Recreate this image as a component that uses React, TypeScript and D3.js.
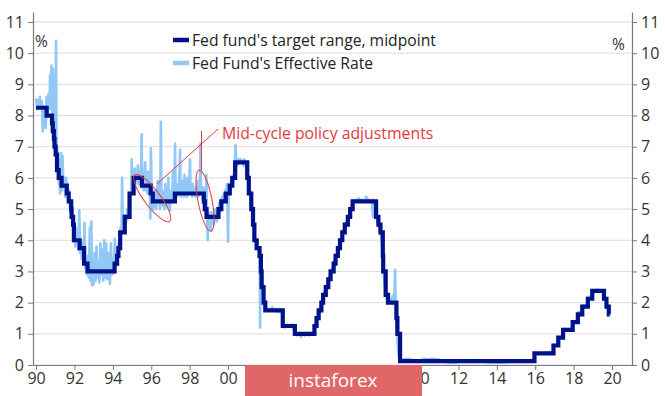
import * as d3 from "d3";
import { useRef, useEffect } from "react";

// Fed funds target range midpoint (step changes)
const targetDates = [
  1990.0, 1990.55, 1990.83, 1990.87, 1990.93, 1990.96, 1991.02, 1991.09, 1991.18, 1991.33,
  1991.6, 1991.7, 1991.83, 1991.85, 1991.93, 1991.97, 1992.27, 1992.5, 1992.68, 1994.09,
  1994.22, 1994.29, 1994.38, 1994.62, 1994.87, 1995.08, 1995.51, 1995.97, 1996.08, 1997.23,
  1998.74, 1998.79, 1998.88, 1999.5, 1999.65, 1999.88, 2000.09, 2000.22, 2000.37, 2001.0,
  2001.08, 2001.21, 2001.3, 2001.37, 2001.49, 2001.64, 2001.71, 2001.75, 2001.85, 2001.94,
  2002.85, 2003.48, 2004.5, 2004.61, 2004.72, 2004.86, 2004.95, 2005.09, 2005.22, 2005.34,
  2005.5, 2005.6, 2005.72, 2005.83, 2005.95, 2006.08, 2006.24, 2006.36, 2006.49, 2007.71,
  2007.83, 2007.94, 2008.06, 2008.08, 2008.21, 2008.33, 2008.77, 2008.82, 2008.96, 2015.96,
  2016.95, 2017.2, 2017.45, 2017.95, 2018.22, 2018.45, 2018.74, 2018.97, 2019.58, 2019.71,
  2019.83, 2019.87,
];
const targetRates = [
  8.25, 8.0, 7.75, 7.5, 7.25, 7.0, 6.75, 6.25, 6.0, 5.75,
  5.5, 5.25, 5.0, 4.75, 4.5, 4.0, 3.75, 3.25, 3.0, 3.25,
  3.5, 3.75, 4.25, 4.75, 5.5, 6.0, 5.75, 5.5, 5.25, 5.5,
  5.25, 5.0, 4.75, 5.0, 5.25, 5.5, 5.75, 6.0, 6.5, 6.0,
  5.5, 5.0, 4.5, 4.0, 3.75, 3.5, 3.0, 2.5, 2.0, 1.75,
  1.25, 1.0, 1.25, 1.5, 1.75, 2.0, 2.25, 2.5, 2.75, 3.0,
  3.25, 3.5, 3.75, 4.0, 4.25, 4.5, 4.75, 5.0, 5.25, 4.75,
  4.5, 4.25, 3.5, 3.0, 2.25, 2.0, 1.5, 1.0, 0.125, 0.375,
  0.625, 0.875, 1.125, 1.375, 1.625, 1.875, 2.125, 2.375, 2.125, 1.875,
  1.625, 1.625,
];

// Effective rate
const effectiveDates = [
  1990.0, 1990.05, 1990.1, 1990.15, 1990.2, 1990.25, 1990.3, 1990.35, 1990.4, 1990.45,
  1990.5, 1990.55, 1990.6, 1990.65, 1990.7, 1990.73, 1990.76, 1990.8, 1990.84, 1990.88,
  1990.92, 1990.96, 1991.0, 1991.04, 1991.07, 1991.1, 1991.13, 1991.16, 1991.19, 1991.22,
  1991.25, 1991.3, 1991.34, 1991.38, 1991.42, 1991.47, 1991.52, 1991.57, 1991.62, 1991.67,
  1991.72, 1991.77, 1991.82, 1991.87, 1991.92, 1991.96,
  1992.0, 1992.04, 1992.08, 1992.12, 1992.16, 1992.2, 1992.25, 1992.29, 1992.33, 1992.38,
  1992.42, 1992.47, 1992.52, 1992.56, 1992.6, 1992.65, 1992.7, 1992.75, 1992.8, 1992.84,
  1992.88, 1992.92, 1992.96, 1993.0, 1993.05, 1993.1, 1993.15, 1993.2, 1993.25, 1993.3,
  1993.35, 1993.4, 1993.45, 1993.5, 1993.55, 1993.6, 1993.65, 1993.7, 1993.75, 1993.8,
  1993.85, 1993.9, 1993.95, 1994.0, 1994.05, 1994.1, 1994.15, 1994.2, 1994.25, 1994.3,
  1994.35, 1994.4, 1994.45, 1994.48, 1994.52, 1994.56, 1994.6, 1994.65, 1994.7, 1994.75,
  1994.8, 1994.85, 1994.9, 1994.95, 1994.98, 1995.02, 1995.06, 1995.1, 1995.14, 1995.18,
  1995.22, 1995.26, 1995.3, 1995.34, 1995.38, 1995.42, 1995.46, 1995.5, 1995.53, 1995.57,
  1995.61, 1995.65, 1995.68, 1995.72, 1995.76, 1995.8, 1995.84, 1995.88, 1995.92, 1995.95,
  1995.98, 1996.02, 1996.06, 1996.1, 1996.14, 1996.18, 1996.22, 1996.26, 1996.3, 1996.34,
  1996.38, 1996.42, 1996.46, 1996.5, 1996.53, 1996.57, 1996.61, 1996.65, 1996.69, 1996.73,
  1996.77, 1996.81, 1996.85, 1996.89, 1996.93, 1996.97, 1997.01, 1997.05, 1997.09, 1997.13,
  1997.17, 1997.21, 1997.24, 1997.27, 1997.31, 1997.35, 1997.39, 1997.43, 1997.47, 1997.5,
  1997.53, 1997.57, 1997.61, 1997.65, 1997.69, 1997.73, 1997.77, 1997.81, 1997.85, 1997.89,
  1997.93, 1997.97, 1998.02, 1998.05, 1998.09, 1998.13, 1998.17, 1998.21, 1998.25, 1998.29,
  1998.33, 1998.37, 1998.41, 1998.45, 1998.49, 1998.53, 1998.56, 1998.59, 1998.63, 1998.67,
  1998.71, 1998.75, 1998.79, 1998.83, 1998.87, 1998.9, 1998.94, 1998.98, 1999.02, 1999.06,
  1999.1, 1999.14, 1999.18, 1999.22, 1999.26, 1999.3, 1999.34, 1999.38, 1999.42, 1999.46,
  1999.5, 1999.54, 1999.58, 1999.62, 1999.66, 1999.7, 1999.74, 1999.78, 1999.82, 1999.86,
  1999.9, 1999.94, 1999.97, 2000.0, 2000.03, 2000.07, 2000.11, 2000.15, 2000.19, 2000.23,
  2000.27, 2000.31, 2000.35, 2000.39, 2000.43, 2000.47, 2000.51, 2000.55, 2000.6, 2000.65,
  2000.7, 2000.75, 2000.8, 2000.85, 2000.9, 2000.95, 2001.0, 2001.05, 2001.1, 2001.15,
  2001.22, 2001.28, 2001.32, 2001.38, 2001.45, 2001.5, 2001.6, 2001.65, 2001.67, 2001.69,
  2001.73, 2001.78, 2001.85, 2001.9, 2001.95, 2002.05, 2002.1, 2002.2, 2002.3, 2002.4,
  2002.5, 2002.6, 2002.7, 2002.8, 2002.86, 2002.95, 2003.1, 2003.2, 2003.3, 2003.4,
  2003.48, 2003.6, 2003.7, 2003.8, 2003.9, 2004.0, 2004.1, 2004.2, 2004.3, 2004.4,
  2004.5, 2004.55, 2004.62, 2004.72, 2004.86, 2004.95, 2005.09, 2005.22, 2005.34, 2005.5,
  2005.6, 2005.72, 2005.83, 2005.95, 2006.08, 2006.24, 2006.36, 2006.49, 2006.6, 2006.7,
  2006.8, 2006.9, 2007.0, 2007.1, 2007.2, 2007.3, 2007.4, 2007.5, 2007.55, 2007.58,
  2007.62, 2007.72, 2007.83, 2007.94, 2008.0, 2008.06, 2008.09, 2008.21, 2008.33, 2008.45,
  2008.55, 2008.62, 2008.67, 2008.7, 2008.73, 2008.77, 2008.82, 2008.87, 2008.93, 2009.0,
  2009.2, 2009.4, 2009.6, 2009.8, 2010.0, 2010.2, 2010.4, 2010.6, 2010.8, 2011.0,
  2011.2, 2011.4, 2011.6, 2011.8, 2012.0, 2012.2, 2012.4, 2012.6, 2012.8, 2013.0,
  2013.2, 2013.4, 2013.6, 2013.8, 2014.0, 2014.5, 2015.0, 2015.5, 2015.95, 2015.98,
  2016.3, 2016.6, 2016.95, 2016.98, 2017.2, 2017.22, 2017.45, 2017.47, 2017.95, 2017.97,
  2018.22, 2018.24, 2018.45, 2018.47, 2018.74, 2018.76, 2018.97, 2018.99, 2019.3, 2019.45,
  2019.58, 2019.6, 2019.71, 2019.73, 2019.83, 2019.86,
];
const effectiveRates = [
  8.55, 8.2, 8.5, 8.3, 8.6, 8.25, 8.45, 7.5, 8.3, 8.0,
  7.6, 8.6, 8.1, 8.7, 8.2, 9.3, 8.3, 9.6, 8.0, 9.5,
  7.5, 9.0, 7.3, 10.4, 6.9, 7.0, 6.4, 6.6, 5.8, 6.3,
  5.5, 6.8, 5.6, 6.7, 5.7, 6.0, 5.4, 6.0, 5.5, 5.4,
  5.6, 4.9, 5.3, 4.8, 4.6, 4.5,
  4.1, 3.8, 4.4, 3.9, 4.3, 3.7, 4.97, 3.6, 4.0, 3.4,
  3.9, 3.3, 4.55, 3.1, 3.4, 2.9, 3.5, 2.8, 4.4, 2.7,
  4.6, 2.55, 3.3, 2.6, 3.6, 2.7, 3.8, 2.8, 3.3, 2.65,
  3.9, 2.9, 3.7, 2.7, 4.0, 2.8, 3.9, 2.75, 3.6, 2.9,
  2.6, 3.9, 2.9, 3.4, 2.95, 4.05, 3.2, 3.6, 3.4, 3.9,
  3.7, 4.4, 4.2, 6.0, 4.3, 4.5, 4.3, 4.8, 4.6, 5.0,
  4.7, 5.2, 5.4, 5.6, 6.6, 5.5, 6.0, 5.9, 6.3, 5.8,
  6.2, 5.9, 6.4, 5.8, 6.2, 5.9, 6.1, 7.4, 5.7, 5.9,
  5.6, 6.0, 6.5, 5.6, 5.9, 5.5, 6.2, 5.6, 5.9, 4.7,
  6.95, 5.4, 5.6, 5.0, 5.5, 5.1, 5.6, 5.0, 5.4, 5.9,
  5.2, 5.5, 5.0, 7.8, 5.2, 5.6, 5.1, 5.5, 5.0, 5.8,
  5.2, 5.5, 5.1, 6.0, 5.0, 4.95, 5.4, 5.6, 5.3, 6.2,
  5.4, 5.5, 7.1, 5.5, 5.8, 5.4, 5.7, 5.5, 6.3, 6.9,
  5.4, 5.8, 5.5, 5.9, 5.4, 6.1, 5.5, 5.7, 5.4, 6.0,
  5.5, 5.8, 6.6, 5.5, 5.7, 5.4, 5.8, 5.5, 5.6, 5.4,
  5.7, 5.5, 5.9, 5.4, 5.6, 5.5, 7.1, 5.5, 5.6, 5.3,
  5.7, 5.1, 5.3, 4.9, 6.1, 4.7, 4.0, 4.9, 4.6, 4.8,
  4.3, 4.9, 4.6, 4.8, 4.5, 5.0, 4.7, 4.9, 4.6, 5.0,
  4.9, 5.2, 4.9, 5.3, 5.1, 5.4, 5.2, 5.5, 5.3, 5.6,
  5.4, 5.8, 5.3, 3.95, 5.5, 5.7, 5.6, 5.9, 5.8, 6.0,
  5.9, 6.2, 6.4, 7.05, 6.5, 6.6, 6.4, 6.6, 6.5, 6.6,
  6.5, 6.55, 6.4, 6.6, 6.5, 6.2, 6.0, 5.9, 5.5, 5.6,
  5.0, 4.9, 4.5, 4.0, 4.0, 3.8, 3.7, 3.5, 1.2, 3.0,
  2.6, 2.5, 2.1, 2.0, 1.8, 1.75, 1.8, 1.75, 1.85, 1.75,
  1.8, 1.7, 1.8, 1.7, 1.3, 1.2, 1.3, 1.25, 1.3, 1.2,
  1.05, 0.95, 1.0, 0.9, 1.0, 0.95, 1.0, 0.95, 1.0, 1.0,
  1.05, 1.25, 1.45, 1.7, 1.95, 2.2, 2.45, 2.7, 2.95, 3.2,
  3.45, 3.7, 3.95, 4.2, 4.45, 4.7, 4.95, 5.2, 5.3, 5.25,
  5.35, 5.25, 5.3, 5.25, 5.4, 5.25, 5.3, 5.25, 4.75, 5.3,
  5.0, 4.8, 4.5, 4.2, 4.0, 3.5, 3.0, 2.3, 2.0, 2.0,
  2.2, 2.1, 2.4, 3.05, 2.0, 1.4, 0.8, 0.4, 0.2, 0.15,
  0.18, 0.2, 0.15, 0.12, 0.13, 0.2, 0.18, 0.2, 0.19, 0.17,
  0.12, 0.09, 0.08, 0.07, 0.1, 0.14, 0.16, 0.14, 0.16, 0.14,
  0.15, 0.1, 0.08, 0.09, 0.07, 0.09, 0.12, 0.13, 0.13, 0.36,
  0.37, 0.4, 0.41, 0.65, 0.66, 0.9, 0.91, 1.15, 1.16, 1.41,
  1.42, 1.7, 1.7, 1.91, 1.92, 2.18, 2.2, 2.4, 2.41, 2.38,
  2.4, 2.13, 2.04, 1.9, 1.83, 1.55,
];

const yTicks = [0, 1, 2, 3, 4, 5, 6, 7, 8, 9, 10, 11];
const xTicks = [1990, 1992, 1994, 1996, 1998, 2000, 2002, 2004, 2006, 2008, 2010, 2012, 2014, 2016, 2018, 2020];
// years whose labels sit under the watermark in the source image
const hiddenXLabels = [2002, 2004, 2006, 2008];
const legendLabels = ["Fed fund's target range, midpoint", "Fed Fund's Effective Rate"];
const annotationText = "Mid-cycle policy adjustments";

export default function App() {
  const width = 665;
  const height = 396;
  const marginLeft = 33;
  const marginRight = 33;
  const marginTop = 12;
  const marginBottom = 31;

  const ref = useRef(null);

  useEffect((): void => {
    if (!ref.current) return;
    const svg = d3.select(ref.current);
    svg.selectAll("*").remove();

    const font = "'Open Sans', 'Noto Sans', sans-serif";
    const navy = "#00128a";
    const lightBlue = "#92c8f6";
    const red = "#e23a44";

    const x = d3
      .scaleLinear()
      .domain([1989.84, 2021.04])
      .range([marginLeft, width - marginRight]);

    const y = d3
      .scaleLinear()
      .domain([0, 11.32])
      .range([height - marginBottom, marginTop]);

    // gridlines
    svg
      .append("g")
      .selectAll("line")
      .data(yTicks)
      .enter()
      .append("line")
      .attr("x1", marginLeft)
      .attr("x2", width - marginRight)
      .attr("y1", (d) => y(d))
      .attr("y2", (d) => y(d))
      .attr("stroke", "#dcdcdc")
      .attr("stroke-width", 1);

    const effective = effectiveDates.map((d, i) => [d, effectiveRates[i]] as [number, number]);
    const target = targetDates.map((d, i) => [d, targetRates[i]] as [number, number]);

    const effLine = d3
      .line<[number, number]>()
      .x((d) => x(d[0]))
      .y((d) => y(d[1]));

    const targetLine = d3
      .line<[number, number]>()
      .x((d) => x(d[0]))
      .y((d) => y(d[1]))
      .curve(d3.curveStepAfter);

    svg
      .append("path")
      .datum(effective)
      .attr("d", effLine)
      .attr("fill", "none")
      .attr("stroke", lightBlue)
      .attr("stroke-width", 2.6)
      .attr("stroke-linejoin", "round");

    svg
      .append("path")
      .datum(target)
      .attr("d", targetLine)
      .attr("fill", "none")
      .attr("stroke", navy)
      .attr("stroke-width", 4.2)
      .attr("stroke-linejoin", "miter");

    // axes
    const styleAxis = (g: d3.Selection<SVGGElement, unknown, null, undefined>) => {
      g.select(".domain").attr("stroke", "#7a7a7a").attr("stroke-width", 1.2);
      g.selectAll(".tick line").attr("stroke", "#7a7a7a");
      g.selectAll(".tick text")
        .attr("fill", "#333")
        .style("font-family", font)
        .style("font-size", "16px");
    };

    svg
      .append("g")
      .attr("transform", `translate(0, ${height - marginBottom})`)
      .call(
        d3
          .axisBottom(x)
          .tickValues(xTicks)
          .tickSize(5)
          .tickSizeOuter(0)
          .tickPadding(3)
          .tickFormat((d) =>
            hiddenXLabels.includes(d as number) ? "" : String((d as number) % 100).padStart(2, "0"),
          ),
      )
      .call(styleAxis);

    svg
      .append("g")
      .attr("transform", `translate(${marginLeft}, 0)`)
      .call(d3.axisLeft(y).tickValues(yTicks).tickSize(5).tickSizeOuter(0).tickPadding(4))
      .call(styleAxis);

    svg
      .append("g")
      .attr("transform", `translate(${width - marginRight}, 0)`)
      .call(d3.axisRight(y).tickValues(yTicks).tickSize(5).tickSizeOuter(0).tickPadding(4))
      .call(styleAxis);

    // % labels
    svg
      .append("text")
      .attr("x", x(1990) - 1)
      .attr("y", y(10.2))
      .attr("fill", "#333")
      .style("font-family", font)
      .style("font-size", "15.5px")
      .text("%");
    svg
      .append("text")
      .attr("x", x(2020))
      .attr("y", y(10.1))
      .attr("fill", "#333")
      .style("font-family", font)
      .style("font-size", "15.5px")
      .text("%");

    // legend
    const legend = svg.append("g").attr("transform", `translate(173, 40)`);
    const legendColors = [navy, lightBlue];
    legendLabels.forEach((label, i) => {
      legend
        .append("line")
        .attr("x1", 0)
        .attr("x2", 16)
        .attr("y1", i * 23)
        .attr("y2", i * 23)
        .attr("stroke", legendColors[i])
        .attr("stroke-width", 4.5);
      legend
        .append("text")
        .attr("x", 19)
        .attr("y", i * 23 + 6)
        .attr("fill", "#222")
        .style("font-family", font)
        .style("font-size", "15.7px")
        .text(label);
    });

    // annotation
    const ann = svg.append("g");
    ann
      .append("ellipse")
      .attr("transform", `translate(${x(1996.05)}, ${y(5.35)}) rotate(-37)`)
      .attr("rx", 8)
      .attr("ry", 29)
      .attr("fill", "none")
      .attr("stroke", red)
      .attr("stroke-width", 1);
    ann
      .append("ellipse")
      .attr("transform", `translate(${x(1998.8)}, ${y(5.27)}) rotate(-11)`)
      .attr("rx", 7)
      .attr("ry", 31)
      .attr("fill", "none")
      .attr("stroke", red)
      .attr("stroke-width", 1);
    ann
      .append("line")
      .attr("x1", 218)
      .attr("y1", 129)
      .attr("x2", 157)
      .attr("y2", 184)
      .attr("stroke", red)
      .attr("stroke-width", 1);
    ann
      .append("line")
      .attr("x1", 201.5)
      .attr("y1", 131)
      .attr("x2", 201.5)
      .attr("y2", 170)
      .attr("stroke", red)
      .attr("stroke-width", 1);
    ann
      .append("text")
      .attr("x", 222)
      .attr("y", 139)
      .attr("fill", red)
      .style("font-family", font)
      .style("font-size", "15.8px")
      .text(annotationText);

    // watermark
    const wm = svg.append("g");
    wm.append("rect")
      .attr("x", 245)
      .attr("y", 365)
      .attr("width", 177)
      .attr("height", 31)
      .attr("fill", "#e06767");
    wm.append("text")
      .attr("x", 333)
      .attr("y", 387)
      .attr("text-anchor", "middle")
      .attr("fill", "#ffffff")
      .style("font-family", font)
      .style("font-size", "19px")
      .text("instaforex");
  }, []);

  return (
    <svg
      ref={ref}
      width={width}
      height={height}
      style={{ position: "absolute", left: 0, top: 0, background: "#fff" }}
    />
  );
}
